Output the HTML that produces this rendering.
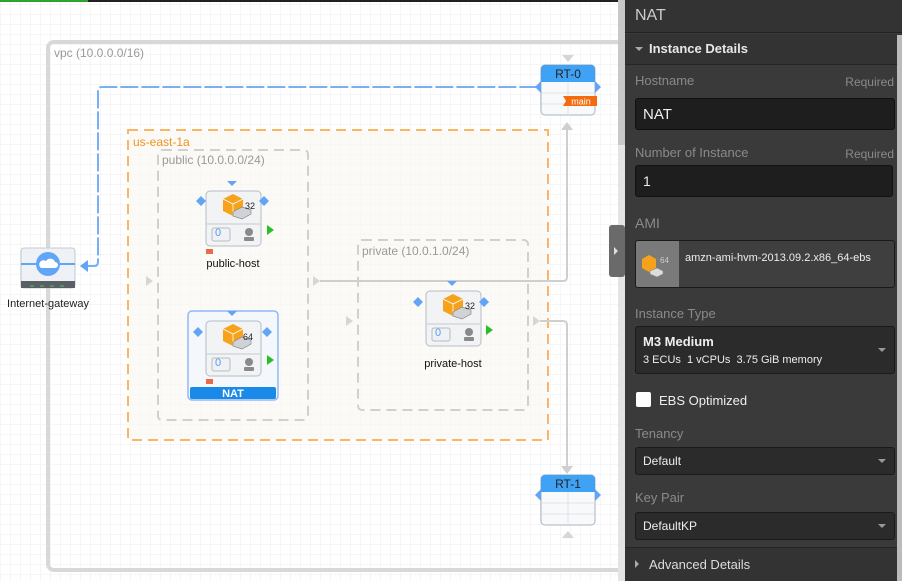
<!DOCTYPE html>
<html><head><meta charset="utf-8"><style>
*{margin:0;padding:0;box-sizing:border-box}
body{width:902px;height:581px;overflow:hidden;position:relative;font-family:"Liberation Sans",sans-serif;background:#fff}
#panel{position:absolute;left:625px;top:0;width:277px;height:581px;background:#3a3a3a;color:#ddd}
.p{position:absolute}
.lbl{position:absolute;left:10px;font-size:13px;color:#8a8a8a}
.req{position:absolute;right:8px;font-size:12px;color:#8a8a8a}
.inp{position:absolute;left:10px;width:260px;background:#1e1e1e;border:1px solid #111;border-radius:3px;color:#eee}
.sel{position:absolute;left:10px;width:260px;background:#2b2b2b;border:1px solid #1a1a1a;border-radius:3px;color:#eee;font-size:12px}
.caret{position:absolute;right:8px;top:50%;margin-top:-2px;border-left:4px solid transparent;border-right:4px solid transparent;border-top:4px solid #999}
</style></head><body>
<svg width="625" height="581" style="position:absolute;left:0;top:0" font-family="Liberation Sans, sans-serif">
<defs>
<pattern id="g" width="10" height="10" patternUnits="userSpaceOnUse" x="0" y="4"><path d="M10 0H0V10" fill="none" stroke="#ececec" stroke-width="1"/></pattern>
<g id="inst">
<rect x="0" y="0" width="55" height="55" rx="4" fill="#f2f3f5" stroke="#b4bcc8"/>
<line x1="1" y1="33" x2="54" y2="33" stroke="#c4c9d0"/>
<path d="M17 8 l10 -5 l10 5 v12 l-10 5 l-10 -5z" fill="#f7a21b"/>
<path d="M17 8 l10 5 l10 -5 M27 13 v12" stroke="#fff" stroke-width="0.8" fill="none"/>
<path d="M27 21 l9 -5 l9 3 v4 l-9 5 l-9 -3z" fill="#cfd2d6" stroke="#888" stroke-width="0.7"/>
<rect x="6" y="37" width="18" height="13" rx="2" fill="#eef1f5" stroke="#bbb"/>
<circle cx="43" cy="41" r="4" fill="#8a8a8a"/><rect x="38" y="46" width="10" height="4" rx="1" fill="#8a8a8a"/>
</g>
</defs>
<rect width="625" height="581" fill="url(#g)"/>
<rect x="0" y="0" width="625" height="2" fill="#222"/><rect x="0" y="0" width="88" height="2" fill="#2ba52b"/>
<rect x="48" y="42" width="600" height="528" rx="6" fill="none" stroke="#d8d8d8" stroke-width="4"/>
<text x="54" y="57" font-size="12" fill="#999">vpc (10.0.0.0/16)</text>
<rect x="128" y="130" width="420" height="310" fill="#faf8f2" fill-opacity="0.7" stroke="#f7b766" stroke-width="2" stroke-dasharray="10,6"/>
<text x="133" y="146" font-size="12" fill="#f0931e">us-east-1a</text>
<rect x="158" y="150" width="150" height="270" rx="4" fill="none" stroke="#d0d0d0" stroke-width="2" stroke-dasharray="10,6"/>
<text x="162" y="164" font-size="12" fill="#999">public (10.0.0.0/24)</text>
<rect x="358" y="240" width="170" height="170" rx="4" fill="none" stroke="#d0d0d0" stroke-width="2" stroke-dasharray="10,6"/>
<text x="362" y="255" font-size="12" fill="#999">private (10.0.1.0/24)</text>
<path d="M86 266 H94 Q98 266 98 262 V91 Q98 87 102 87 H537" fill="none" stroke="#79aef5" stroke-width="2" stroke-dasharray="18,3"/>
<path d="M80 266 l8 -6 v12z" fill="#62a4f5"/>
<path d="M320 281 H563 Q567 281 567 277 V130" fill="none" stroke="#cfcfcf" stroke-width="2"/>
<path d="M561 130 l6 -8 l6 8z" fill="#cfcfcf"/>
<path d="M540 321 H563 Q567 321 567 325 V468" fill="none" stroke="#cfcfcf" stroke-width="2"/>
<path d="M561 466 l6 8 l6 -8z" fill="#cfcfcf"/>
<path d="M146 276 l7 5 l-7 5z M313 276 l7 5 l-7 5z M346 316 l7 5 l-7 5z M533 316 l7 5 l-7 5z" fill="#d6d6d6"/>
<path d="M562 55 h12 l-6 7z M562 538 h12 l-6 -7z" fill="#d6d6d6"/>
<rect x="21" y="248" width="54" height="40" rx="3" fill="#eef1f5" stroke="#c5cad2"/>
<rect x="21" y="281" width="54" height="7" fill="#5a5f66"/>
<path d="M30 286 h4 M40 286 h4 M50 286 h4 M60 286 h4" stroke="#4ec25b"/>
<line x1="21" y1="264" x2="75" y2="264" stroke="#62a4f5" stroke-width="2"/>
<circle cx="48" cy="264" r="12" fill="#62a4f5"/>
<path d="M41 268 h14 a3 3 0 0 0 0 -6 a5 5 0 0 0 -9 -1 a3.5 3.5 0 0 0 -5 7z" fill="#fff"/>
<text x="48" y="307" font-size="11" fill="#222" text-anchor="middle">Internet-gateway</text>
<g transform="translate(541,65)">
<rect x="0" y="0" width="54" height="50" rx="4" fill="#f8f9fb" stroke="#aab3c0"/>
<path d="M0 17 V4 a4 4 0 0 1 4 -4 h46 a4 4 0 0 1 4 4 V17z" fill="#3fa2f5"/>
<text x="27" y="13" font-size="12" fill="#222" text-anchor="middle">RT-0</text>
<path d="M1 28 h52 M1 39 h52 M27 17 V50" stroke="#e0e3e7"/>
<path d="M22 31 h34 v10 h-34 l3 -5z" fill="#f46b0f"/>
<text x="40" y="39.5" font-size="9" fill="#fff" text-anchor="middle">main</text>
</g>
<path d="M535 87 l6 -6 v12z M601 87 l-6 -6 v12z" fill="#62a4f5"/>
<g transform="translate(541,475)">
<rect x="0" y="0" width="54" height="50" rx="4" fill="#f8f9fb" stroke="#aab3c0"/>
<path d="M0 17 V4 a4 4 0 0 1 4 -4 h46 a4 4 0 0 1 4 4 V17z" fill="#3fa2f5"/>
<text x="27" y="13" font-size="12" fill="#222" text-anchor="middle">RT-1</text>
<path d="M1 28 h52 M1 39 h52 M27 17 V50" stroke="#e0e3e7"/>
</g>
<path d="M535 495 l6 -6 v12z M601 495 l-6 -6 v12z" fill="#62a4f5"/>
<use href="#inst" x="206" y="191"/>
<text x="245" y="209" font-size="9" fill="#222">32</text>
<text x="215" y="236" font-size="11" fill="#5a9cf0">0</text>
<path d="M227 181 h10 l-5 5z" fill="#62a4f5"/>
<path d="M196 201 l5 -5 l5 5 l-5 5z M259 201 l5 -5 l5 5 l-5 5z" fill="#62a4f5"/>
<path d="M267 225 l7 5 l-7 5z" fill="#27c027"/>
<rect x="206" y="249" width="7" height="5" fill="#ea6a4a"/>
<text x="233" y="267" font-size="11" fill="#111" text-anchor="middle">public-host</text>
<rect x="188" y="311" width="90" height="89" rx="4" fill="#f4f7fc" stroke="#8fbaf5" stroke-width="1.5"/>
<rect x="190" y="387" width="86" height="12" rx="2" fill="#1a8ae8"/>
<text x="233" y="397" font-size="11" font-weight="bold" fill="#fff" text-anchor="middle">NAT</text>
<use href="#inst" x="206" y="321"/>
<text x="243" y="340" font-size="9" fill="#222">64</text>
<text x="215" y="366" font-size="11" fill="#5a9cf0">0</text>
<path d="M227 311 h10 l-5 5z" fill="#62a4f5"/>
<path d="M193 332 l5 -5 l5 5 l-5 5z M262 332 l5 -5 l5 5 l-5 5z" fill="#62a4f5"/>
<path d="M267 355 l7 5 l-7 5z" fill="#27c027"/>
<rect x="206" y="379" width="7" height="5" fill="#ea6a4a"/>
<use href="#inst" x="426" y="291"/>
<text x="465" y="309" font-size="9" fill="#222">32</text>
<text x="435" y="336" font-size="11" fill="#5a9cf0">0</text>
<path d="M447 281 h10 l-5 5z" fill="#62a4f5"/>
<path d="M413 302 l5 -5 l5 5 l-5 5z M479 302 l5 -5 l5 5 l-5 5z" fill="#62a4f5"/>
<path d="M486 325 l7 5 l-7 5z" fill="#27c027"/>
<text x="453" y="367" font-size="11" fill="#111" text-anchor="middle">private-host</text>
<rect x="618" y="0" width="7" height="581" fill="#e4e4e4"/>
<rect x="618" y="0" width="7" height="145" fill="#c8c8c8"/>
<rect x="609" y="225" width="16" height="52" rx="3" fill="#6a6a6a"/>
<path d="M614 247 l4 4 l-4 4z" fill="#ddd"/>
</svg>
<div id="panel">
<div class="p" style="left:0;top:0;width:277px;height:33px;background:#333;border-bottom:1px solid #222"><span style="position:absolute;left:10px;top:7px;font-size:16px;color:#ccc">NAT</span></div>
<div class="p" style="left:0;top:34px;width:277px;height:31px;background:#333;border-bottom:1px solid #252525">
<span style="position:absolute;left:10px;top:13px;border-left:4px solid transparent;border-right:4px solid transparent;border-top:4px solid #aaa"></span>
<span style="position:absolute;left:24px;top:7px;font-size:13px;font-weight:bold;color:#e8e8e8">Instance Details</span></div>
<div class="lbl" style="top:73px">Hostname</div><div class="req" style="top:75px">Required</div>
<div class="inp" style="top:98px;height:32px;font-size:15px;padding:7px 7px">NAT</div>
<div class="lbl" style="top:145px">Number of Instance</div><div class="req" style="top:147px">Required</div>
<div class="inp" style="top:165px;height:32px;font-size:14px;padding:7px 7px;width:258px">1</div>
<div class="lbl" style="top:215px;font-size:14px">AMI</div>
<div class="sel" style="top:240px;height:48px;background:#3f3f3f;overflow:hidden">
<div style="position:absolute;left:0;top:0;width:43px;height:48px;background:#7a7a7a"></div>
<svg style="position:absolute;left:4px;top:10px" width="38" height="30"><path d="M2 8 l7 -4 l7 4 v9 l-7 4 l-7 -4z" fill="#f7a21b"/><path d="M10 20 l7 -3 l6 3 v3 l-6 3 l-7 -3z" fill="#ddd" stroke="#888" stroke-width="0.6"/><text x="20" y="12" font-size="8" fill="#ccc" font-family="Liberation Sans">64</text></svg>
<span style="position:absolute;left:49px;top:11px;font-size:11px;color:#eee">amzn-ami-hvm-2013.09.2.x86_64-ebs</span></div>
<div class="lbl" style="top:306px">Instance Type</div>
<div class="sel" style="top:326px;height:48px">
<div style="position:absolute;left:7px;top:7px;font-size:13px;font-weight:bold">M3 Medium</div>
<div style="position:absolute;left:7px;top:27px;font-size:11px">3 ECUs&nbsp; 1 vCPUs&nbsp; 3.75 GiB memory</div><span class="caret"></span></div>
<div class="p" style="left:11px;top:392px;width:15px;height:15px;background:#fff;border-radius:2px"></div>
<div class="p" style="left:34px;top:393px;font-size:13px;color:#eee">EBS Optimized</div>
<div class="lbl" style="top:426px">Tenancy</div>
<div class="sel" style="top:447px;height:28px;padding:6px 7px">Default<span class="caret"></span></div>
<div class="lbl" style="top:490px">Key Pair</div>
<div class="sel" style="top:512px;height:28px;padding:6px 7px">DefaultKP<span class="caret"></span></div>
<div class="p" style="left:0;top:547px;width:277px;height:34px;background:#333;border-top:1px solid #252525">
<span style="position:absolute;left:10px;top:12px;border-top:4px solid transparent;border-bottom:4px solid transparent;border-left:4px solid #aaa"></span>
<span style="position:absolute;left:24px;top:9px;font-size:13px;color:#ddd">Advanced Details</span></div>
<div class="p" style="left:272px;top:35px;width:5px;height:546px;background:#bbb"></div>
</div>
</body></html>
